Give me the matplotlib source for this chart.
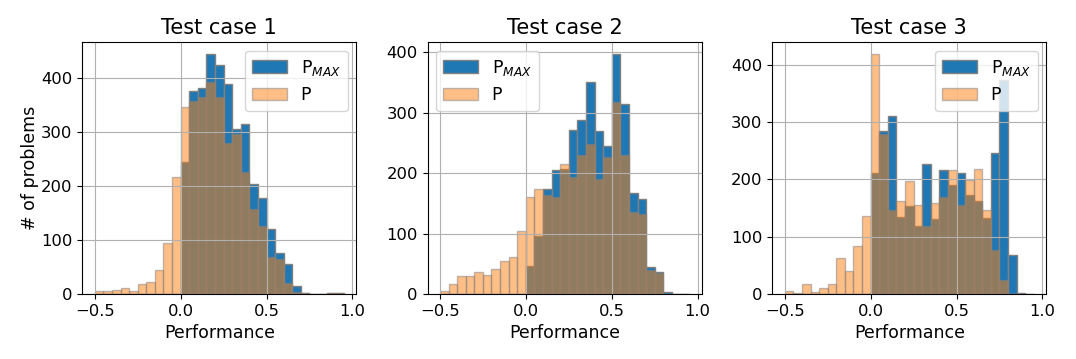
import numpy as np
import matplotlib

matplotlib.use("Agg")
import matplotlib.pyplot as plt

# Histogram bins: 0.05 wide, from -0.5 to 0.95
bin_edges = np.round(np.arange(-0.5, 0.951, 0.05), 2)

titles = ["Test case 1", "Test case 2", "Test case 3"]

# Counts per bin (29 bins)
pmax_1 = [0, 0, 0, 0, 0, 0, 0, 0, 0, 0,
          245, 375, 382, 444, 424, 388, 305, 314, 203, 178,
          121, 75, 56, 14, 2, 0, 0, 1, 1]
p_1 = [5, 5, 7, 11, 6, 19, 23, 44, 94, 217,
       346, 357, 364, 393, 364, 279, 296, 225, 157, 126,
       69, 65, 20, 3, 1, 0, 0, 1, 1]

pmax_2 = [0, 0, 0, 0, 0, 0, 0, 0, 0, 0,
          46, 96, 174, 205, 206, 271, 288, 351, 269, 245,
          397, 314, 167, 157, 45, 36, 3, 0, 0]
p_2 = [5, 17, 29, 29, 36, 31, 42, 54, 61, 105,
       160, 174, 163, 160, 215, 194, 230, 248, 190, 226,
       318, 230, 136, 132, 40, 34, 0, 0, 0]

pmax_3 = [0, 0, 0, 0, 0, 0, 0, 0, 0, 0,
          211, 284, 310, 135, 153, 119, 227, 131, 216, 190,
          212, 172, 162, 133, 246, 373, 68, 1, 0]
p_3 = [5, 1, 17, 3, 10, 17, 63, 40, 83, 136,
       419, 280, 147, 162, 197, 155, 119, 158, 169, 216,
       156, 199, 218, 146, 76, 24, 0, 0, 0]

pmax_all = [pmax_1, pmax_2, pmax_3]
p_all = [p_1, p_2, p_3]
legend_locs = ["upper right", "upper left", "upper right"]

centers = (bin_edges[:-1] + bin_edges[1:]) / 2

fig = plt.figure(figsize=(10.76, 3.59), dpi=100)
lefts = [82.3, 427.5, 772.3]
W, H = 1076, 359
axes = [fig.add_axes([l / W, (H - 294) / H, 274 / W, 252 / H]) for l in lefts]

for i, ax in enumerate(axes):
    ax.hist(centers, bins=bin_edges, weights=pmax_all[i], color="tab:blue",
            edgecolor="grey", linewidth=1, label="P$_{MAX}$")
    ax.hist(centers, bins=bin_edges, weights=p_all[i], color="tab:orange",
            alpha=0.5, edgecolor="grey", linewidth=1, label="P")
    ax.set_title(titles[i], fontsize=15)
    ax.set_xlabel("Performance", fontsize=12.5)
    ax.set_xticks([-0.5, 0.0, 0.5, 1.0])
    ax.set_yticks([0, 100, 200, 300, 400])
    ax.tick_params(labelsize=11.8)
    ax.grid(True)
    ax.legend(loc=legend_locs[i], fontsize=12.5)

axes[0].set_ylabel("# of problems", fontsize=12.5, labelpad=1.5)

plt.savefig("out.png", dpi=100)
